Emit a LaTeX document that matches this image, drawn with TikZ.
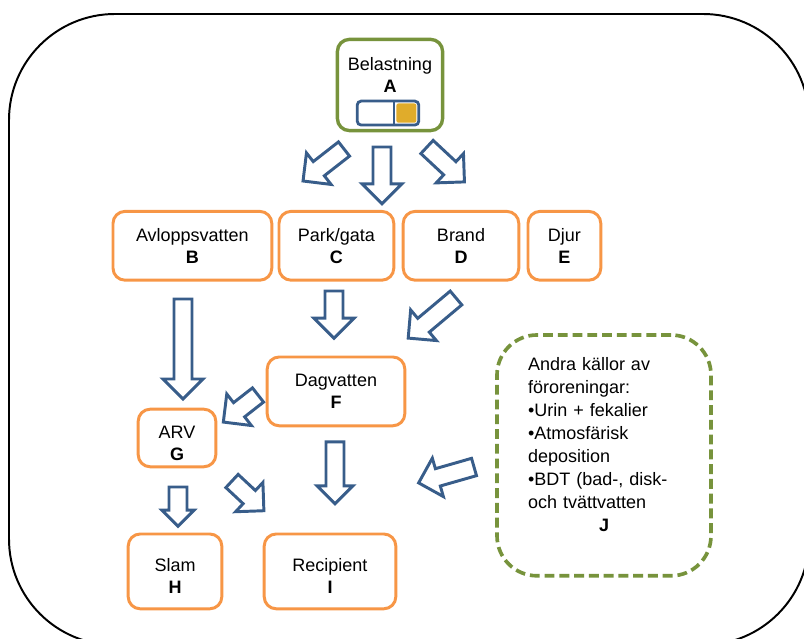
\documentclass[tikz,border=0pt]{standalone}
\usepackage{fontspec}
\setmainfont{Liberation Sans}
\usetikzlibrary{%
  calc
}
\definecolor{boxorange}{RGB}{247,150,70}
\definecolor{boxgreen}{RGB}{119,147,60}
\definecolor{arrowblue}{RGB}{56,93,138}
\definecolor{bargold}{RGB}{224,172,43}
\tikzset{
  box/.style={draw=boxorange, line width=2.1pt, rounded corners=0.3cm,
    fill=white, align=center, inner sep=2pt},
  loadbox/.style={draw=boxgreen, line width=2.4pt, rounded corners=0.3cm,
    fill=white, align=center, inner sep=2pt},
  otherbox/.style={draw=boxgreen, line width=2.6pt, dash pattern=on 7pt off 3.5pt,
    rounded corners=1cm, fill=white, align=left, inner sep=2pt,
    font=\fontsize{12.8}{16.3}\selectfont},
  arrowline/.style={draw=arrowblue, line width=2.1pt, fill=white},
  pics/barrow/.style n args={2}{code={%
    \draw[arrowline] (0,0.225) -- ({#1-#2},0.225) -- ({#1-#2},#2) -- (#1,0)
      -- ({#1-#2},-#2) -- ({#1-#2},-0.225) -- (0,-0.225) -- cycle;
  }}
}

\begin{document}
\begin{tikzpicture}[font=\fontsize{12.8}{15.8}\selectfont]

  \useasboundingbox (0,0) rectangle (20.1,15.975);
  \clip (0,0) rectangle (20.1,15.975);

  \draw[line width=1.4pt, rounded corners=2.65cm] (0.225,-0.15) rectangle (20.225,15.625);

  % load
  \node[loadbox, minimum width=2.63cm, minimum height=2.28cm, text depth=0.5cm]
    (A) at (9.75,13.85) {Belastning\\\textbf{A}};
  \draw[arrowline, line width=2pt, rounded corners=0.1cm]
    ($(A.south)+(-0.82,0.18)$) rectangle ($(A.south)+(0.72,0.78)$);
  \fill[bargold, rounded corners=0.05cm]
    ($(A.south)+(0.16,0.24)$) rectangle ($(A.south)+(0.66,0.72)$);
  \draw[arrowblue, line width=2pt] ($(A.south)+(0.1,0.18)$) -- ($(A.south)+(0.1,0.78)$);

  % sources
  \node[box, minimum width=3.97cm, minimum height=1.72cm] (B) at (4.81,9.83) {Avloppsvatten\\\textbf{B}};
  \node[box, minimum width=2.87cm, minimum height=1.72cm] (C) at (8.41,9.83) {Park/gata\\\textbf{C}};
  \node[box, minimum width=2.89cm, minimum height=1.72cm] (D) at (11.525,9.83) {Brand\\\textbf{D}};
  \node[box, minimum width=1.82cm, minimum height=1.72cm] (E) at (14.11,9.83) {Djur\\\textbf{E}};

  \node[box, minimum width=3.44cm, minimum height=1.72cm] (F) at (8.4,6.19) {Dagvatten\\\textbf{F}};
  \node[box, minimum width=1.94cm, minimum height=1.44cm, text height=1.13cm] (G) at (4.425,5.025) {ARV\\\textbf{G}};
  \node[box, minimum width=2.34cm, minimum height=1.87cm, text height=1.13cm] (H) at (4.375,1.69) {Slam\\\textbf{H}};
  \node[box, minimum width=3.29cm, minimum height=1.87cm, text height=1.13cm] (I) at (8.25,1.69) {Recipient\\\textbf{I}};

  \node[otherbox, minimum width=5.35cm, minimum height=6.02cm, text width=3.8cm]
    (J) at (15.1,4.59) {Andra källor av\\föroreningar:\\•Urin + fekalier\\•Atmosfärisk\\deposition\\
    •BDT (bad-, disk-\\och tvättvatten\\\makebox[\hsize]{\rule[-0.55cm]{0pt}{0.1pt}\textbf{J}}};

  % flows
  \pic[rotate=218] at (8.6,12.25) {barrow={1.3}{0.5}};
  \pic[rotate=270] at (9.55,12.3) {barrow={1.42}{0.5}};
  \pic[rotate=-43] at (10.675,12.3) {barrow={1.28}{0.5}};

  \pic[rotate=270] at (8.35,8.7) {barrow={1.18}{0.5}};
  \pic[rotate=220] at (11.4,8.525) {barrow={1.56}{0.5}};
  \pic[rotate=270] at (4.575,8.5) {barrow={2.5}{0.5}};

  \pic[rotate=218] at (6.45,6.1) {barrow={1.1}{0.5}};
  \pic[rotate=270] at (8.375,4.93) {barrow={1.55}{0.45}};
  \pic[rotate=270] at (4.45,3.8) {barrow={0.98}{0.4}};
  \pic[rotate=-43] at (5.8,3.95) {barrow={1.09}{0.5}};
  \pic[rotate=196] at (11.85,4.3) {barrow={1.44}{0.5}};

\end{tikzpicture}
\end{document}
